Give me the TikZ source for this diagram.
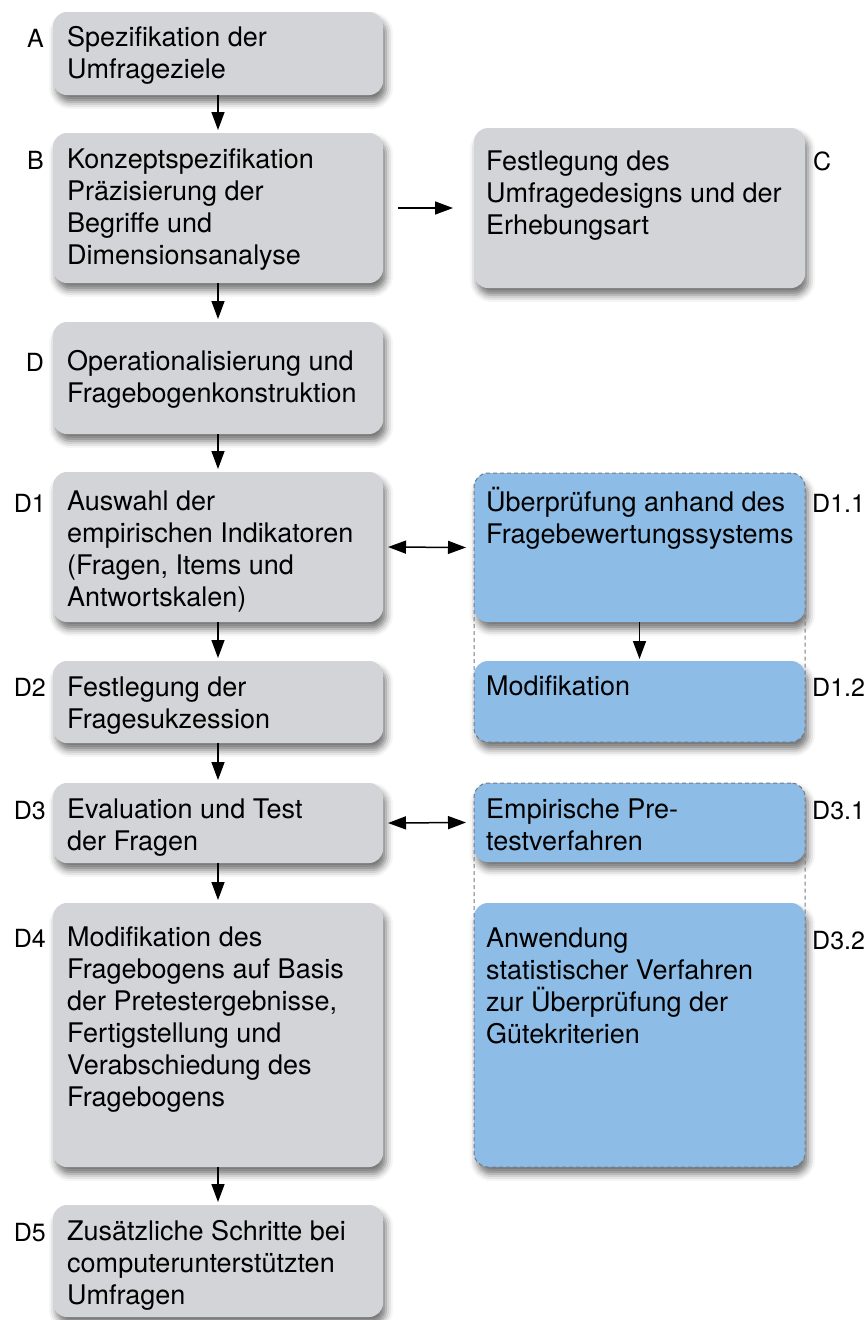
\documentclass[tikz,border=0pt]{standalone}
\usepackage{fontspec}
\setmainfont{TeX Gyre Heros}
\usetikzlibrary{arrows.meta,shadows.blur,fit}
\definecolor{boxgray}{RGB}{211,212,215}
\definecolor{boxblue}{RGB}{141,189,230}
\definecolor{dashgray}{RGB}{115,121,132}
\begin{document}
\begin{tikzpicture}[x=1pt,y=-1pt,
  box/.style={rounded corners=14pt,anchor=north west,inner sep=0pt,outer sep=0pt,
    blur shadow={shadow xshift=3pt,shadow yshift=-7pt,shadow blur radius=7pt,shadow opacity=55}},
  grayb/.style={box,fill=boxgray,minimum width=330pt},
  blueb/.style={box,fill=boxblue,minimum width=331pt},
  txt/.style={anchor=base west,align=left,inner sep=0pt,font=\fontsize{27}{32}\selectfont},
  labl/.style={anchor=base east,inner sep=0pt,font=\fontsize{25}{30}\selectfont},
  labr/.style={anchor=base west,inner sep=0pt,font=\fontsize{25}{30}\selectfont},
  grp/.style={draw=dashgray,dash pattern=on 4pt off 3pt,line width=1pt,rounded corners=14pt,inner sep=0pt},
  tip/.tip={Triangle[length=18pt,width=13pt]},
  arr/.style={-tip,line width=1.5pt},
  darr/.style={tip-tip,line width=1.5pt}]
\useasboundingbox (0,0) rectangle (867,1320);

% boxes
\node[grayb,minimum height=83pt]  (A)  at (53,12) {};
\node[grayb,minimum height=150pt] (B)  at (53,133) {};
\node[blueb,fill=boxgray,minimum height=160pt] (C) at (474,128) {};
\node[grayb,minimum height=112pt] (D)  at (53,322) {};
\node[grayb,minimum height=150pt] (D1) at (53,472) {};
\node[blueb,minimum height=149pt] (D11) at (474,473) {};
\node[blueb,minimum height=81pt]  (D12) at (474,661) {};
\node[grayb,minimum height=82pt]  (D2) at (53,661) {};
\node[grayb,minimum height=80pt]  (D3) at (53,783) {};
\node[blueb,minimum height=79pt]  (D31) at (474,783) {};
\node[blueb,minimum height=264pt] (D32) at (474,903) {};
\node[grayb,minimum height=264pt] (D4) at (53,903) {};
\node[grayb,minimum height=112pt] (D5) at (53,1205) {};

% dashed groups
\node[grp,fit=(D11)(D12)] (G1) {};
\node[grp,fit=(D31)(D32)] (G3) {};

% texts (anchor = baseline of the last line)
\node[txt] (tA)  at (67,78)    {Spezifikation der\\Umfrageziele};
\node[txt] (tB)  at (67,264)   {Konzeptspezifikation\\Präzisierung der\\Begriffe und\\Dimensionsanalyse};
\node[txt] (tC)  at (486,234)  {Festlegung des\\Umfragedesigns und der\\Erhebungsart};
\node[txt] (tD)  at (67,402)   {Operationalisierung und\\Fragebogenkonstruktion};
\node[txt] (tD1) at (67,606)   {Auswahl der\\empirischen Indikatoren\\(Fragen, Items und\\Antwortskalen)};
\node[txt] (tD11) at (486,543) {Überprüfung anhand des\\Fragebewertungssystems};
\node[txt] (tD12) at (486,695) {Modifikation};
\node[txt] (tD2) at (67,728)   {Festlegung der\\Fragesukzession};
\node[txt] (tD3) at (67,850)   {Evaluation und Test\\der Fragen};
\node[txt] (tD31) at (486,850) {Empirische Pre-\\testverfahren};
\node[txt] (tD32) at (486,1043) {Anwendung\\statistischer Verfahren\\zur Überprüfung der\\Gütekriterien};
\node[txt] (tD4) at (67,1106)  {Modifikation des\\Fragebogens auf Basis\\der Pretestergebnisse,\\Fertigstellung und\\Verabschiedung des\\Fragebogens};
\node[txt] (tD5) at (67,1304)  {Zusätzliche Schritte bei\\computerunterstützten\\Umfragen};

% labels
\node[labl] (lA)  at (44,47)   {A};
\node[labl] (lB)  at (44,169)  {B};
\node[labr] (lC)  at (813,170) {C};
\node[labl] (lD)  at (44,371)  {D};
\node[labl] (lD1) at (46,512)  {D1};
\node[labr] (lD11) at (812,512) {D1.1};
\node[labr] (lD12) at (812,696) {D1.2};
\node[labl] (lD2) at (46,696)  {D2};
\node[labl] (lD3) at (46,819)  {D3};
\node[labr] (lD31) at (812,819) {D3.1};
\node[labr] (lD32) at (812,949) {D3.2};
\node[labl] (lD4) at (46,947)  {D4};
\node[labl] (lD5) at (46,1241) {D5};

% connectors
\draw[arr] (A.south)  -- ([yshift=3pt]B.north);
\draw[arr] ([xshift=15pt]B.east) -- ([xshift=-21pt]C.west);
\draw[arr] (B.south)  -- ([yshift=3pt]D.north);
\draw[arr] (D.south)  -- ([yshift=3pt]D1.north);
\draw[darr] ([xshift=5pt]D1.east) -- ([xshift=-8pt]D11.west);
\draw[arr] (D11.south) -- ([yshift=2pt]D12.north);
\draw[arr] (D1.south) -- ([yshift=3pt]D2.north);
\draw[arr] (D2.south) -- ([yshift=3pt]D3.north);
\draw[darr] ([xshift=5pt]D3.east) -- ([xshift=-8pt]D31.west);
\draw[arr] (D3.south) -- ([yshift=3pt]D4.north);
\draw[arr] (D4.south) -- ([yshift=3pt]D5.north);
\end{tikzpicture}
\end{document}
